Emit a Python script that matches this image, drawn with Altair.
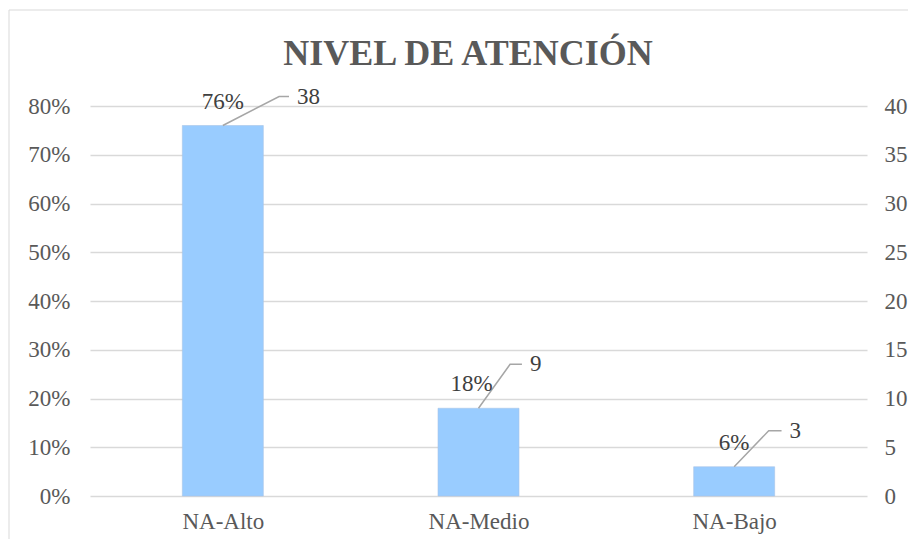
import altair as alt
import pandas as pd

# ---- data ----
categories = ["NA-Alto", "NA-Medio", "NA-Bajo"]
counts = [38, 9, 3]
percents = [0.76, 0.18, 0.06]
pct_labels = ["76%", "18%", "6%"]
count_labels = ["38", "9", "3"]
left_ticks = [0, 0.1, 0.2, 0.3, 0.4, 0.5, 0.6, 0.7, 0.8]
right_ticks = [0, 5, 10, 15, 20, 25, 30, 35, 40]
title_text = "NIVEL DE ATENCIÓN"

# ---- layout / style ----
W, H = 777, 390
FONT = "Liberation Serif"
PX_X = W / 3.0          # pixels per category unit
PX_Y = H / 0.8          # pixels per 1.0 of percent scale
leader_dx = [57, 32, 35]   # px, elbow offset of leader line
leader_dy = [29, 44, 36]
leader_h = [10, 12, 13]    # px, horizontal end segment
pct_shift = [0, -7, 0]     # px, horizontal nudge of % labels

idx = list(range(len(categories)))
df = pd.DataFrame({
    "cat": categories,
    "idx": idx,
    "pct": percents,
    "count": counts,
    "pct_label": pct_labels,
    "count_label": count_labels,
    "pct_x": [i + s / PX_X for i, s in zip(idx, pct_shift)],
})

rows = []
for i, c, p in zip(idx, categories, percents):
    ex = i + leader_dx[i] / PX_X
    ey = p + leader_dy[i] / PX_Y
    rows.append({"cat": c, "o": 0, "x": i, "y": p})
    rows.append({"cat": c, "o": 1, "x": ex, "y": ey})
    rows.append({"cat": c, "o": 2, "x": ex + leader_h[i] / PX_X, "y": ey})
leader = pd.DataFrame(rows)
ends = leader[leader["o"] == 2].reset_index(drop=True).copy()
ends["count_label"] = count_labels

xscale = alt.Scale(domain=[-0.5, 2.5], nice=False, zero=False)
yscale = alt.Scale(domain=[0, 0.8], nice=False)
label_expr = "datum.value == 0 ? 'NA-Alto' : datum.value == 1 ? 'NA-Medio' : 'NA-Bajo'"

x_axis = alt.Axis(values=idx, labelExpr=label_expr, title=None, grid=False, domain=False,
                  ticks=False, labelFont=FONT, labelFontSize=23, labelColor="#595959",
                  labelPadding=14)
y_axis = alt.Axis(values=left_ticks, format=".0%", title=None, grid=True,
                  gridColor="#D9D9D9", gridWidth=1.3, domain=False, ticks=False,
                  labelFont=FONT, labelFontSize=23, labelColor="#595959",
                  labelPadding=20)

bars = alt.Chart(df).mark_bar(size=81, color="#99CCFF", stroke="#A8C4E8", strokeWidth=0.6).encode(
    x=alt.X("idx:Q", scale=xscale, axis=x_axis),
    y=alt.Y("pct:Q", scale=yscale, axis=y_axis),
)

pct_text = alt.Chart(df).mark_text(font=FONT, fontSize=23, color="#404040", dy=-24,
                                   baseline="middle", align="center").encode(
    x=alt.X("pct_x:Q", scale=xscale, axis=x_axis),
    y=alt.Y("pct:Q", scale=yscale, axis=y_axis),
    text="pct_label:N",
)

lines = alt.Chart(leader).mark_line(color="#A6A6A6", strokeWidth=1.5).encode(
    x=alt.X("x:Q", scale=xscale, axis=x_axis),
    y=alt.Y("y:Q", scale=yscale, axis=y_axis),
    detail="cat:N",
    order="o:Q",
)

count_text = alt.Chart(ends).mark_text(font=FONT, fontSize=23, color="#404040", dx=8,
                                       align="left", baseline="middle").encode(
    x=alt.X("x:Q", scale=xscale, axis=x_axis),
    y=alt.Y("y:Q", scale=yscale, axis=y_axis),
    text="count_label:N",
)

title = alt.Chart(pd.DataFrame({"t": [title_text]})).mark_text(
    font=FONT, fontSize=36, fontWeight="bold", color="#595959",
    align="center", baseline="alphabetic").encode(
    x=alt.value(378), y=alt.value(-41), text="t:N")

border_top = alt.Chart(pd.DataFrame({"a": [0]})).mark_rule(color="#D9D9D9", strokeWidth=1).encode(
    x=alt.value(-81), x2=alt.value(830), y=alt.value(-96))
border_left = alt.Chart(pd.DataFrame({"a": [0]})).mark_rule(color="#D9D9D9", strokeWidth=1).encode(
    x=alt.value(-81), y=alt.value(-96), y2=alt.value(450))

left = alt.layer(bars, lines, pct_text, count_text, title, border_top, border_left)

right = alt.Chart(df).mark_point(opacity=0).encode(
    x=alt.X("idx:Q", scale=xscale, axis=x_axis),
    y=alt.Y("count:Q", scale=alt.Scale(domain=[0, 40], nice=False),
            axis=alt.Axis(orient="right", values=right_ticks, title=None, grid=False,
                          domain=False, ticks=False, labelFont=FONT, labelFontSize=23,
                          labelColor="#595959", labelPadding=17)),
)

chart = alt.layer(left, right).resolve_scale(y="independent").properties(
    width=W, height=H,
    autosize=alt.AutoSizeParams(type="none"),
    padding={"left": 82, "top": 98, "right": 41, "bottom": 43},
    background="white",
).configure_view(stroke=None)

chart.save("out.html", embed_options={"renderer": "svg", "actions": False})
